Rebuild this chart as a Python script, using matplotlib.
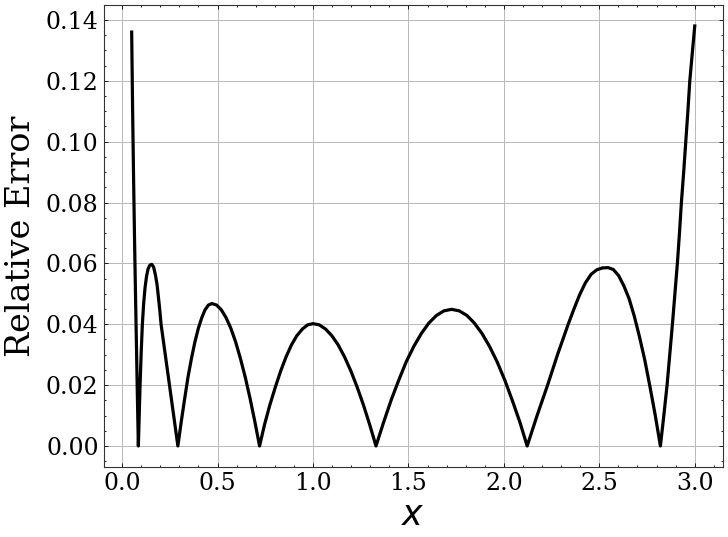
import matplotlib
matplotlib.use("Agg")
import matplotlib.pyplot as plt
from matplotlib.ticker import MultipleLocator, FormatStrFormatter

# Curve points
x_vals = [0.05, 0.055, 0.06, 0.065, 0.07, 0.075, 0.08, 0.085,
          0.089, 0.094, 0.100, 0.106, 0.113, 0.120, 0.128, 0.136, 0.145, 0.155, 0.165, 0.175, 0.183, 0.19,
          0.197, 0.204, 0.215, 0.226, 0.237, 0.248, 0.259, 0.27, 0.281, 0.292,
          0.310, 0.328, 0.345, 0.363, 0.381, 0.399, 0.417, 0.434, 0.452, 0.470,
          0.495, 0.520, 0.545, 0.570, 0.595, 0.620, 0.645, 0.670, 0.695, 0.720,
          0.746, 0.774, 0.803, 0.831, 0.859, 0.887, 0.915, 0.944, 0.972, 1.0,
          1.033, 1.066, 1.099, 1.132, 1.165, 1.198, 1.231, 1.264, 1.297, 1.330,
          1.370, 1.409, 1.449, 1.488, 1.528, 1.568, 1.607, 1.647, 1.686, 1.726,
          1.766, 1.806, 1.845, 1.885, 1.925, 1.965, 2.005, 2.044, 2.084, 2.122,
          2.174, 2.229, 2.281, 2.337, 2.367, 2.397, 2.427, 2.457, 2.487, 2.516, 2.546,
          2.573, 2.601, 2.628, 2.656, 2.683, 2.710, 2.738, 2.765, 2.793, 2.820,
          2.838, 2.855, 2.869, 2.883, 2.896, 2.909, 2.920, 2.930, 2.942, 2.953, 2.964, 2.974, 2.987, 3.0]
err_vals = [0.136, 0.110, 0.088, 0.068, 0.050, 0.033, 0.016, 0.0,
            0.009, 0.020, 0.031, 0.040, 0.047, 0.052, 0.0558, 0.0582, 0.0594, 0.0597, 0.0588, 0.056, 0.053, 0.049,
            0.0448, 0.040, 0.035, 0.030, 0.025, 0.020, 0.015, 0.010, 0.005, 0.0,
            0.0081, 0.0157, 0.0226, 0.0287, 0.0341, 0.0386, 0.0421, 0.0447, 0.0463, 0.0468,
            0.0463, 0.0447, 0.0421, 0.0386, 0.0341, 0.0287, 0.0226, 0.0157, 0.0081, 0.0,
            0.0070, 0.0135, 0.0194, 0.0247, 0.0293, 0.0332, 0.0362, 0.0384, 0.0398, 0.0402,
            0.0398, 0.0384, 0.0362, 0.0332, 0.0293, 0.0247, 0.0194, 0.0135, 0.0070, 0.0,
            0.0078, 0.0150, 0.0216, 0.0276, 0.0327, 0.0370, 0.0404, 0.0429, 0.0444, 0.0449,
            0.0444, 0.0429, 0.0404, 0.0370, 0.0327, 0.0276, 0.0216, 0.0150, 0.0078, 0.0,
            0.010, 0.020, 0.030, 0.040, 0.0450, 0.0497, 0.0536, 0.0564, 0.0579, 0.0585, 0.0586,
            0.0580, 0.0560, 0.0527, 0.0484, 0.0427, 0.0360, 0.0283, 0.0196, 0.0101, 0.0,
            0.010, 0.020, 0.030, 0.040, 0.050, 0.060, 0.070, 0.080, 0.090, 0.100, 0.110, 0.120, 0.129, 0.138]

x_label = "$x$"
y_label = "Relative Error"

plt.rcParams["font.family"] = ["DejaVu Serif"]
plt.rcParams["mathtext.fontset"] = "dejavusans"

fig = plt.figure(figsize=(7.28, 5.37), dpi=100)
ax = fig.add_axes([0.1422, 0.1304, 0.993 - 0.1422, 0.9907 - 0.1304])

ax.plot(x_vals, err_vals, color="black", lw=2.3, solid_joinstyle="round")

ax.grid(True, which="major", color="#b8b8b8", lw=0.7)
ax.set_axisbelow(True)
ax.xaxis.set_major_locator(MultipleLocator(0.5))
ax.xaxis.set_minor_locator(MultipleLocator(0.1))
ax.yaxis.set_major_locator(MultipleLocator(0.02))
ax.yaxis.set_minor_locator(MultipleLocator(0.005))
ax.yaxis.set_major_formatter(FormatStrFormatter("%.2f"))
ax.xaxis.set_major_formatter(FormatStrFormatter("%.1f"))
ax.tick_params(which="both", direction="in", top=True, right=True, width=0.6, labelsize=17)
ax.tick_params(which="major", length=3)
ax.tick_params(which="minor", length=1.5)
for s in ax.spines.values():
    s.set_linewidth(0.8)
    s.set_color("#333333")

ax.set_xlabel(x_label, fontsize=25, labelpad=2)
ax.set_ylabel(y_label, fontsize=24, labelpad=6)

fig.savefig("out.png", dpi=100)
